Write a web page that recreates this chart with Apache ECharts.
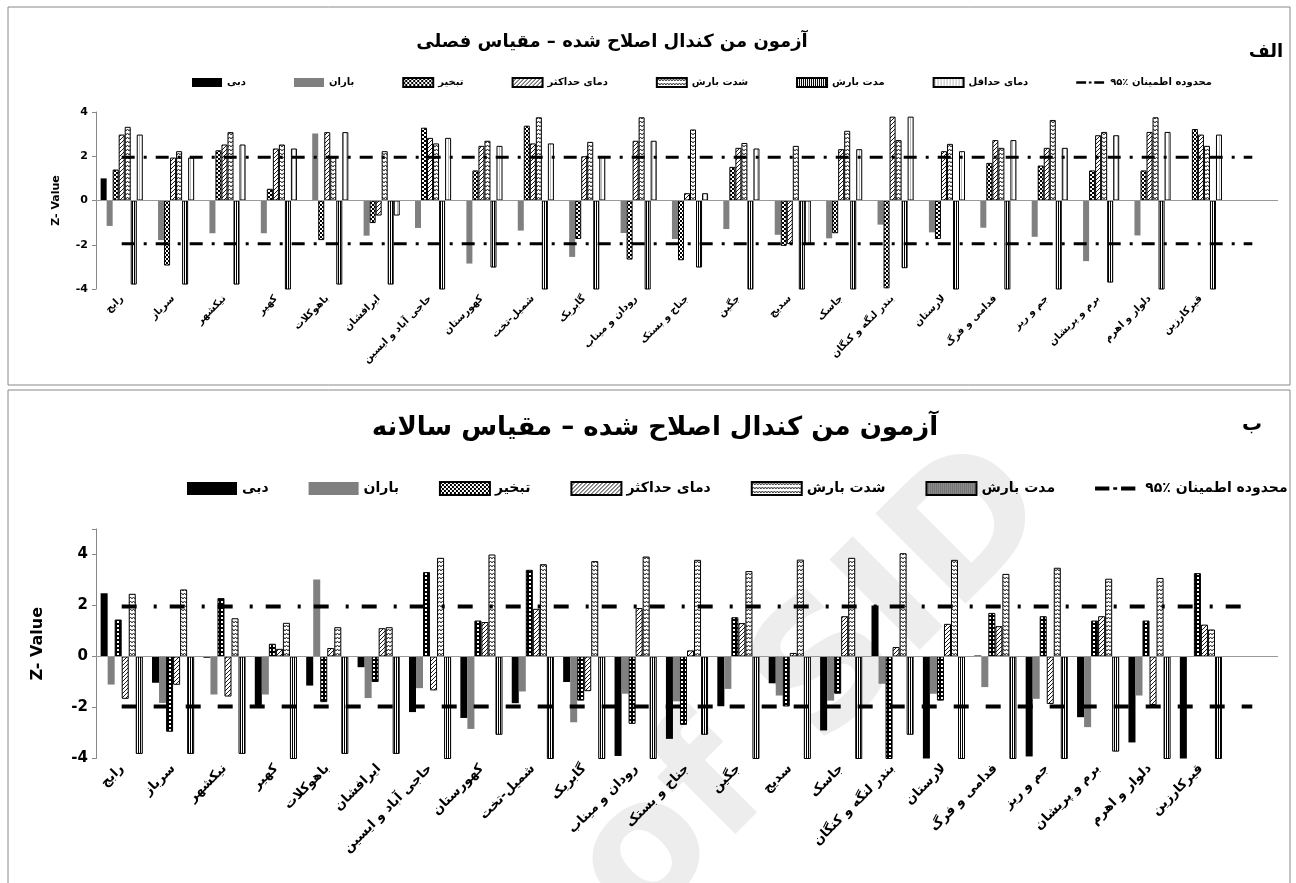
<!DOCTYPE html>
<html><head><meta charset="utf-8">
<script src="https://cdn.jsdelivr.net/npm/echarts@6/dist/echarts.min.js"></script>
<style>html,body{margin:0;padding:0;background:#fff}#c{width:1296px;height:883px}</style>
</head><body><div id="c"></div>
<script>
// ---------- data ----------
const categories = ['رابج','سرباز','نیکشهر','کهیر','باهوکلات','ایرافشان','حاجی آباد و ایسین','کهورستان','شمیل-تخت','گابریک','رودان و میناب','جناح و بستک','جگین','سدیج','جاسک','بندر لنگه و کنگان','لارستان','فدامی و فرگ','جم و ریز','برم و پریشان','دلوار و اهرم','قیرکارزین',''];
const yTicksTop = [-4,-2,0,2,4];
const yTicksBottom = [-4,-2,0,2,4];
const confTop = 1.96, confBottom = 1.96;

// seasonal (top)
const dabiS    = [1.0,0,0,0,0,0,0,0,0,0,0,0,0,0,0,0,0,0,0,0,0,0,null];
const baranS   = [-1.15,-1.79,-1.48,-1.48,3.03,-1.59,-1.24,-2.85,-1.36,-2.55,-1.47,-1.74,-1.29,-1.55,-1.71,-1.09,-1.44,-1.23,-1.64,-2.74,-1.58,0,null];
const tabkhirS = [1.4,-2.94,2.27,0.53,-1.79,-1.02,3.29,1.36,3.38,-1.74,-2.67,-2.7,1.52,-2.05,-1.48,-3.97,-1.74,1.7,1.58,1.36,1.36,3.23,null];
const tmaxS    = [2.98,1.94,2.53,2.35,3.09,-0.68,2.83,2.47,2.58,2.0,2.7,0.33,2.38,-1.97,2.32,3.79,2.23,2.73,2.38,2.95,3.1,2.98,null];
const shedatS  = [3.33,2.23,3.09,2.53,1.97,2.23,2.58,2.7,3.76,2.65,3.76,3.21,2.6,2.47,3.15,2.73,2.56,2.38,3.64,3.1,3.76,2.47,null];
const moddatS  = [-3.8,-3.8,-3.8,-4.1,-3.8,-3.8,-4.1,-3.03,-4.1,-4.1,-4.1,-3.03,-4.1,-4.1,-4.1,-3.06,-4.1,-4.1,-4.1,-3.71,-4.1,-4.1,null];
const tminS    = [2.98,1.94,2.53,2.35,3.09,-0.68,2.83,2.47,2.58,2.0,2.7,0.33,2.35,-1.97,2.32,3.79,2.23,2.73,2.38,2.95,3.1,2.98,null];

// annual (bottom)
const dabiA    = [2.48,-1.03,-0.05,-1.92,-1.14,-0.42,-2.18,-2.41,-1.83,-1.0,-3.9,-3.23,-1.95,-1.05,-2.9,2.0,-4.1,0.04,-3.92,-2.38,-3.37,-4.1,null];
const baranA   = [-1.1,-1.82,-1.49,-1.49,3.02,-1.63,-1.24,-2.84,-1.37,-2.58,-1.46,-1.76,-1.27,-1.53,-1.73,-1.07,-1.46,-1.2,-1.66,-2.77,-1.53,0,null];
const tabkhirA = [1.45,-2.95,2.29,0.5,-1.79,-1.0,3.31,1.41,3.4,-1.73,-2.64,-2.68,1.54,-1.96,-1.46,-4.05,-1.73,1.71,1.58,1.41,1.41,3.27,null];
const tmaxA    = [-1.66,-1.11,-1.57,0.3,0.33,1.11,-1.33,1.35,1.87,-1.36,1.9,0.24,1.31,0.14,1.58,0.37,1.28,1.19,-1.86,1.58,-1.9,1.25,null];
const shedatA  = [2.46,2.63,1.5,1.32,1.15,1.15,3.87,4.0,3.62,3.74,3.92,3.79,3.35,3.8,3.87,4.05,3.79,3.24,3.48,3.05,3.08,1.06,null];
const moddatA  = [-3.82,-3.82,-3.82,-4.1,-3.82,-3.82,-4.1,-3.07,-4.1,-4.1,-4.1,-3.07,-4.1,-4.1,-4.1,-3.07,-4.1,-4.1,-4.1,-3.73,-4.1,-4.1,null];

const N = {dabi:'دبی', baran:'باران', tabkhir:'تبخیر', tmax:'دمای حداکثر', shedat:'شدت بارش', moddat:'مدت بارش', tmin:'دمای حداقل', conf:'محدوده اطمینان ٪۹۵'};

// ---------- patterns ----------
function pat(w,h,draw){const c=document.createElement('canvas');c.width=w;c.height=h;const g=c.getContext('2d');g.fillStyle='#fff';g.fillRect(0,0,w,h);draw(g);return {image:c,repeat:'repeat'};}
const checker = pat(4,4,g=>{g.fillStyle='#000';g.fillRect(0,0,2,2);g.fillRect(2,2,2,2);});
const checkerB = pat(4,4,g=>{g.fillStyle='#000';g.fillRect(0,0,4,4);g.fillStyle='#fff';g.fillRect(1,1,2,2);});
const diag = pat(4,4,g=>{g.strokeStyle='#000';g.lineWidth=0.9;g.beginPath();g.moveTo(0,4);g.lineTo(4,0);g.moveTo(-1,1);g.lineTo(1,-1);g.moveTo(3,5);g.lineTo(5,3);g.stroke();});
const zig = pat(6,4,g=>{g.strokeStyle='#000';g.lineWidth=0.8;g.beginPath();g.moveTo(0,3);g.lineTo(1.5,1);g.lineTo(3,3);g.lineTo(4.5,1);g.lineTo(6,3);g.stroke();});
const vert = pat(2,1,g=>{g.fillStyle='#000';g.fillRect(0,0,1,1);});
const vertLight = pat(3,1,g=>{g.fillStyle='#bbb';g.fillRect(1,0,1,1);});

const FONT = 'DejaVu Sans';
const gapCat = '18%';
const confIcon = 'path://M0,0h0.01v0.01h-0.01z M0,3.5h11v3h-11z M14,4h3v2h-3z M20,3.5h11v3h-11z M31,9.99h0.01v0.01h-0.01z';

function bar(name,data,color,idx,border){
  return {type:'bar',name,data,xAxisIndex:idx,yAxisIndex:idx,barGap:'0%',barCategoryGap:gapCat,
    itemStyle:{color,borderColor:'#000',borderWidth:border?1:0},emphasis:{disabled:true},clip:true};
}
function confLine(val,idx,dash,w){
  return {type:'line',name:N.conf,data:categories.map(()=>val),xAxisIndex:idx,yAxisIndex:idx,symbol:'none',
    itemStyle:{color:'#000'},lineStyle:{color:'#000',width:w,type:dash},z:5,emphasis:{disabled:true}};
}
const zeroMark = {silent:true,symbol:'none',label:{show:false},lineStyle:{color:'#999',width:1,type:'solid'},data:[{yAxis:0}]};

const s = [];
const b1 = bar(N.dabi,dabiS,'#000',0,false); b1.markLine = zeroMark; s.push(b1);
s.push(bar(N.baran,baranS,'#808080',0,false));
s.push(bar(N.tabkhir,tabkhirS,checker,0,true));
s.push(bar(N.tmax,tmaxS,diag,0,true));
s.push(bar(N.shedat,shedatS,zig,0,true));
s.push(bar(N.moddat,moddatS,vert,0,true));
s.push(bar(N.tmin,tminS,vertLight,0,true));
s.push(confLine(confTop,0,[13,9,3,9],3));
s.push(confLine(-confTop,0,[13,9,3,9],3));

const b2 = bar(N.dabi,dabiA,'#000',1,false); b2.markLine = zeroMark; s.push(b2);
s.push(bar(N.baran,baranA,'#808080',1,false));
s.push(bar(N.tabkhir,tabkhirA,checkerB,1,true));
s.push(bar(N.tmax,tmaxA,diag,1,true));
s.push(bar(N.shedat,shedatA,zig,1,true));
s.push(bar(N.moddat,moddatA,vert,1,true));
s.push(confLine(confBottom,1,[15,17,3,13],4));
s.push(confLine(-confBottom,1,[15,17],4));

const chart = echarts.init(document.getElementById('c'),null,{renderer:'canvas'});
function xAx(idx,fs){return {type:'category',gridIndex:idx,data:categories,boundaryGap:true,
  axisLine:{show:false,onZero:false},axisTick:{show:false},
  axisLabel:{interval:0,rotate:45,fontFamily:FONT,fontWeight:'bold',fontSize:fs,color:'#000',margin:8}};}
function yAx(idx,fs,min,max,nameGap,nfs,ticks){return {type:'value',gridIndex:idx,min,max,interval:2,
  name:'Z- Value',nameLocation:'middle',nameGap,nameRotate:90,nameTextStyle:{fontFamily:FONT,fontWeight:'bold',fontSize:nfs,color:'#000'},
  axisLine:{show:true,lineStyle:{color:'#888'}},axisTick:{show:true,inside:false,length:4,lineStyle:{color:'#888'}},
  splitLine:{show:false},
  axisLabel:{fontFamily:FONT,fontWeight:'bold',fontSize:fs,color:'#000',formatter:v=>(ticks.indexOf(v)>=0?String(v):'')}};}

function legendData(names){return names.map(n=>n===N.conf?{name:n,icon:confIcon,itemStyle:{color:'#000'}}:{name:n,icon:'rect'});}

chart.setOption({
  animation:false,
  textStyle:{fontFamily:FONT},
  grid:[{left:96,right:18,top:112,height:177},{left:96,right:18,top:529,height:229.5}],
  xAxis:[xAx(0,10),xAx(1,13)],
  yAxis:[yAx(0,11,-4,4,34,11,yTicksTop),yAx(1,15,-4,5,50,16,yTicksBottom)],
  legend:[
    {data:legendData([N.dabi,N.baran,N.tabkhir,N.tmax,N.shedat,N.moddat,N.tmin,N.conf]),left:187,top:72,width:1100,itemWidth:30,itemHeight:9,itemGap:48,
      selectedMode:false,textStyle:{fontFamily:FONT,fontWeight:'bold',fontSize:10,color:'#000'}},
    {data:legendData([N.dabi,N.baran,N.tabkhir,N.tmax,N.shedat,N.moddat,N.conf]),left:182,top:476,width:1200,itemWidth:50,itemHeight:13,itemGap:40,
      selectedMode:false,textStyle:{fontFamily:FONT,fontWeight:'bold',fontSize:14,color:'#000'}}
  ],
  graphic:[
    {type:'text',x:815,y:690,rotation:Math.PI/4,z:-10,silent:true,style:{text:'of SID',font:'bold 175px "DejaVu Sans"',fill:'#ededed',align:'center',verticalAlign:'middle'}},
    {type:'rect',shape:{x:8,y:7,width:1282,height:378},style:{fill:'none',stroke:'#888',lineWidth:1},silent:true},
    {type:'rect',shape:{x:8,y:390,width:1282,height:500},style:{fill:'none',stroke:'#888',lineWidth:1},silent:true},
    {type:'text',x:612,y:42,style:{text:'آزمون من کندال اصلاح شده – مقیاس فصلی',font:'bold 18px "DejaVu Sans"',fill:'#000',align:'center',verticalAlign:'middle'}},
    {type:'text',x:1266,y:52,style:{text:'الف',font:'bold 18px "DejaVu Sans"',fill:'#000',align:'center',verticalAlign:'middle'}},
    {type:'text',x:655,y:428,style:{text:'آزمون من کندال اصلاح شده – مقیاس سالانه',font:'bold 26px "DejaVu Sans"',fill:'#000',align:'center',verticalAlign:'middle'}},
    {type:'text',x:1252,y:425,style:{text:'ب',font:'bold 20px "DejaVu Sans"',fill:'#000',align:'center',verticalAlign:'middle'}}
  ],
  series:s
});
</script></body></html>
